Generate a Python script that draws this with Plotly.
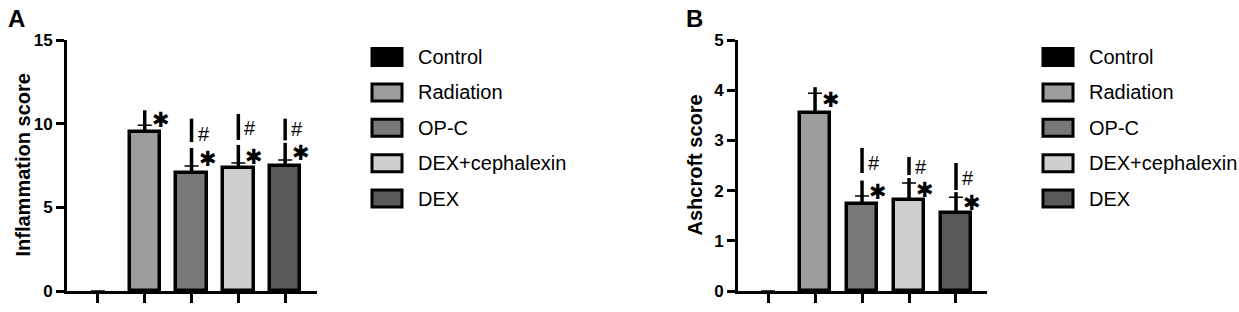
import plotly.graph_objects as go

W, H = 1239, 312

# ---------------- data ----------------
groups = ["Control", "Radiation", "OP-C", "DEX+cephalexin", "DEX"]
colors = ["#000000", "#9b9d9f", "#78797b", "#cecfcf", "#58595b"]
outline = [0, 3.5, 3.5, 3.5, 3.5]

# Panel A: Inflammation score
A_mean = [0, 9.5, 7.05, 7.35, 7.48]
A_cap = [0, 9.9, 7.47, 7.65, 7.83]
A_low_top = [None, 10.8, 8.55, 8.73, 8.85]
A_up_lo = [None, None, 8.9, 9.03, 9.0]
A_up_hi = [None, None, 10.3, 10.58, 10.3]
A_star = [None, 10.2, 7.9, 8.0, 8.25]
A_hash = [None, None, 9.4, 9.75, 9.7]
A_ticks = [0, 5, 10, 15]

# Panel B: Ashcroft score
B_mean = [0, 3.55, 1.73, 1.81, 1.55]
B_cap = [0, 3.94, 1.89, 2.15, 1.87]
B_low_top = [None, 4.06, 2.2, 2.25, 1.97]
B_up_lo = [None, None, 2.35, 2.31, 2.01]
B_up_hi = [None, None, 2.85, 2.67, 2.55]
B_star = [None, 3.8, 1.97, 2.01, 1.75]
B_hash = [None, None, 2.55, 2.47, 2.25]
B_ticks = [0, 1, 2, 3, 4, 5]

FONT = "Liberation Sans, Arial, sans-serif"


def px(x):
    return x / W


def py(y):
    return 1 - y / H


fig = go.Figure()
annotations = []
shapes = []

panels = [
    dict(xa="x", ya="y", mean=A_mean, cap=A_cap, low_top=A_low_top, up_lo=A_up_lo,
         up_hi=A_up_hi, star=A_star, hsh=A_hash, ticks=A_ticks, ymax=15,
         xdom=(67, 317), xr=(-0.66, 4.68), title="Inflammation score", tx=22,
         letter="A", lx=16, legx=372),
    dict(xa="x2", ya="y2", mean=B_mean, cap=B_cap, low_top=B_low_top, up_lo=B_up_lo,
         up_hi=B_up_hi, star=B_star, hsh=B_hash, ticks=B_ticks, ymax=5,
         xdom=(738, 987), xr=(-0.64, 4.66), title="Ashcroft score", tx=694,
         letter="B", lx=694, legx=1043),
]

xi = list(range(len(groups)))
YTOP, YBOT = 40, 291

for k, p in enumerate(panels):
    fig.add_trace(go.Bar(
        x=xi, y=p["mean"], width=0.65,
        marker=dict(color=colors, line=dict(color="black", width=outline)),
        error_y=dict(type="data", symmetric=False,
                     array=[c - m for c, m in zip(p["cap"], p["mean"])],
                     arrayminus=[0] * len(xi), color="black", thickness=1.5, width=7),
        xaxis=p["xa"], yaxis=p["ya"], showlegend=False, hoverinfo="skip"))
    # thick vertical segments (lower)
    lx, ly = [], []
    for i, m, t in zip(xi, p["mean"], p["low_top"]):
        if t is not None:
            lx += [i, i, None]
            ly += [m, t, None]
    fig.add_trace(go.Scatter(x=lx, y=ly, mode="lines", line=dict(color="black", width=3.5),
                             xaxis=p["xa"], yaxis=p["ya"], showlegend=False, hoverinfo="skip"))
    # upper segments
    ux, uy = [], []
    for i, a, b in zip(xi, p["up_lo"], p["up_hi"]):
        if a is not None:
            ux += [i, i, None]
            uy += [a, b, None]
    fig.add_trace(go.Scatter(x=ux, y=uy, mode="lines", line=dict(color="black", width=3.5),
                             xaxis=p["xa"], yaxis=p["ya"], showlegend=False, hoverinfo="skip"))
    for i, s, h in zip(xi, p["star"], p["hsh"]):
        if s is not None:
            annotations.append(dict(x=i, y=s, xref=p["xa"], yref=p["ya"], text="✱",
                                    showarrow=False, xshift=16, yshift=0,
                                    font=dict(family="DejaVu Sans", size=21, color="black")))
        if h is not None:
            annotations.append(dict(x=i, y=h, xref=p["xa"], yref=p["ya"], text="#",
                                    showarrow=False, xshift=12, yshift=0,
                                    font=dict(family=FONT, size=20, color="black")))
    axn = "" if k == 0 else "2"
    fig.update_layout(**{
        "xaxis" + axn: dict(domain=[px(p["xdom"][0]), px(p["xdom"][1])], range=list(p["xr"]),
                            anchor=p["ya"], tickvals=xi, ticktext=[""] * len(xi),
                            showline=True, linecolor="black", linewidth=3, ticks="outside",
                            ticklen=9, tickwidth=2.5, tickcolor="black", showgrid=False,
                            zeroline=False, fixedrange=True, automargin=False),
        "yaxis" + axn: dict(domain=[py(YBOT), py(YTOP)], range=[0, p["ymax"]], anchor=p["xa"],
                            tickvals=p["ticks"], showline=True, linecolor="black", linewidth=3,
                            ticks="outside", ticklen=8, tickwidth=2.5, tickcolor="black",
                            showgrid=False, zeroline=False, fixedrange=True, automargin=False,
                            tickfont=dict(family=FONT, size=17, color="black", weight="bold")),
    })
    # y title
    annotations.append(dict(x=px(p["tx"]), y=py((YTOP + YBOT) / 2), xref="paper", yref="paper",
                            text="<b>" + p["title"] + "</b>", textangle=-90, showarrow=False,
                            xanchor="center", yanchor="middle",
                            font=dict(family=FONT, size=20, color="black")))
    # panel letter
    annotations.append(dict(x=px(p["lx"]), y=py(18), xref="paper", yref="paper",
                            text="<b>" + p["letter"] + "</b>", showarrow=False,
                            xanchor="center", yanchor="middle",
                            font=dict(family=FONT, size=24, color="black")))
    # manual legend
    for j, (g, c) in enumerate(zip(groups, colors)):
        cy = 57 + j * 35.4
        shapes.append(dict(type="rect", xref="paper", yref="paper",
                           x0=px(p["legx"]), x1=px(p["legx"] + 30),
                           y0=py(cy + 8.5), y1=py(cy - 8.5),
                           fillcolor=c, line=dict(color="black", width=3)))
        annotations.append(dict(x=px(p["legx"] + 44), y=py(cy), xref="paper", yref="paper",
                                text=g, showarrow=False, xanchor="left", yanchor="middle",
                                font=dict(family=FONT, size=20, color="black")))

fig.update_layout(template="none", width=W, height=H, margin=dict(l=0, r=0, t=0, b=0, pad=0),
                  paper_bgcolor="white", plot_bgcolor="white", bargap=0,
                  annotations=annotations, shapes=shapes, showlegend=False)

fig.write_html("out.html", config={"displayModeBar": False},
               post_script="document.body.style.margin='0';document.body.style.overflow='hidden';")
